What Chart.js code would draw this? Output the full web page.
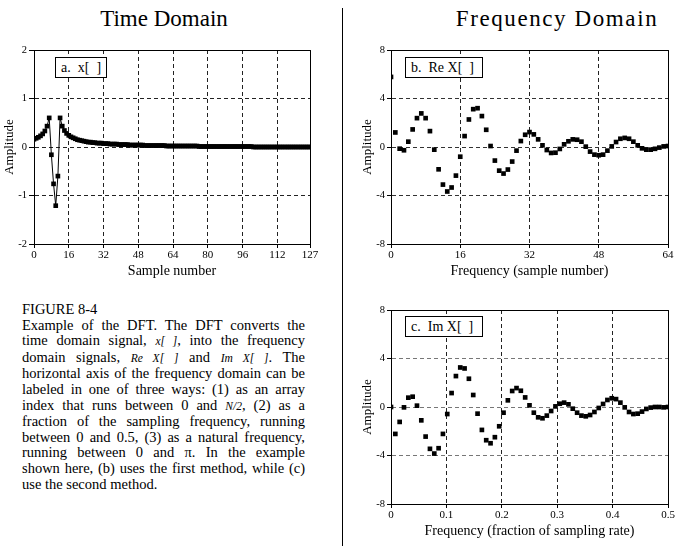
<!DOCTYPE html>
<html><head><meta charset="utf-8">
<script src="https://cdn.jsdelivr.net/npm/chart.js@4.4.1/dist/chart.umd.min.js"></script>
<style>
html,body{margin:0;padding:0;background:#fff;}
body{width:676px;height:555px;position:relative;overflow:hidden;font-family:"Liberation Serif","Times New Roman",serif;color:#000;}
canvas{position:absolute;}
.title{position:absolute;top:6px;font-size:23px;white-space:nowrap;transform:translateX(-50%);}
.lbl{position:absolute;border:1px solid #000;background:#fff;font-size:14px;line-height:19px;padding-left:5px;box-sizing:border-box;white-space:pre;}
#divider{position:absolute;left:342px;top:8px;width:1px;height:538px;background:#000;}
#caption{position:absolute;left:22px;top:302px;width:283px;font-size:14.5px;line-height:15.6px;}
#caption div{text-align:justify;text-align-last:justify;}
#caption div.l{text-align-last:left;}
#caption .s{font-style:italic;font-size:11.5px;}
</style>
</head><body>
<div class="title" style="left:164px">Time Domain</div>
<div class="title" style="left:557px;letter-spacing:1.6px">Frequency Domain</div>
<div id="divider"></div>
<canvas id="ca" width="330" height="250" style="left:0;top:40px"></canvas>
<canvas id="cb" width="336" height="250" style="left:340px;top:40px"></canvas>
<canvas id="cc" width="336" height="250" style="left:340px;top:300px"></canvas>
<div class="lbl" style="left:55px;top:57px;width:52px;height:21px">a.  x[  ]</div>
<div class="lbl" style="left:405px;top:57px;width:78px;height:21px">b.  Re X[  ]</div>
<div class="lbl" style="left:405px;top:316px;width:78px;height:21px">c.  Im X[  ]</div>
<div id="caption">
<div class="l">FIGURE 8-4</div>
<div>Example of the DFT. The DFT converts the</div>
<div>time domain signal, <span class="s">x[ ]</span>, into the frequency</div>
<div>domain signals, <span class="s">Re X[ ]</span> and <span class="s">Im X[ ]</span>. The</div>
<div>horizontal axis of the frequency domain can be</div>
<div>labeled in one of three ways: (1) as an array</div>
<div>index that runs between 0 and <span class="s">N/2</span>, (2) as a</div>
<div>fraction of the sampling frequency, running</div>
<div>between 0 and 0.5, (3) as a natural frequency,</div>
<div>running between 0 and π. In the example</div>
<div>shown here, (b) uses the first method, while (c)</div>
<div class="l">use the second method.</div>
</div>
<script>
// ---- data ----
const N = 128;
const timeTicks = [0, 16, 32, 48, 64, 80, 96, 112, 127];
const timeAmpTicks = [-2, -1, 0, 1, 2];
const freqIndexTicks = [0, 16, 32, 48, 64];
const freqFractionTicks = [0, 0.1, 0.2, 0.3, 0.4, 0.5];
const freqAmpTicks = [-8, -4, 0, 4, 8];

const xSignal = [
  0.16,0.18,0.20,0.23,0.27,0.33,0.43,0.60,-0.16,-0.76,-1.21,-0.60,0.60,0.43,0.34,0.28,
  0.24,0.21,0.19,0.17,0.15,0.14,0.13,0.12,0.11,0.10,0.10,0.09,0.09,0.08,0.08,0.08,
  0.07,0.07,0.07,0.06,0.06,0.06,0.06,0.05,0.05,0.05,0.05,0.05,0.04,0.04,0.04,0.04,
  0.04,0.04,0.04,0.03,0.03,0.03,0.03,0.03,0.03,0.03,0.03,0.03,0.03,0.02,0.02,0.02,
  0.02,0.02,0.02,0.02,0.02,0.02,0.02,0.02,0.02,0.02,0.02,0.02,0.01,0.01,0.01,0.01,
  0.01,0.01,0.01,0.01,0.01,0.01,0.01,0.01,0.01,0.01,0.01,0.01,0.01,0.01,0.01,0.01,
  0.01,0.01,0.01,0.01,0.01,0.00,0.00,0.00,0.00,0.00,0.00,0.00,0.00,0.00,0.00,0.00,
  0.00,0.00,0.00,0.00,0.00,0.00,0.00,0.00,0.00,0.00,0.00,0.00,0.00,0.00,0.00,0.00
];

const reX = [
  5.78,1.20,-0.14,-0.27,0.44,1.45,2.38,2.77,2.38,1.31,
  -0.22,-1.84,-3.10,-3.67,-3.34,-2.36,-0.80,0.90,2.27,3.12,
  3.20,2.55,1.42,0.08,-1.12,-1.95,-2.19,-1.86,-1.20,-0.30,
  0.49,1.01,1.23,1.04,0.63,0.14,-0.25,-0.49,-0.47,-0.16,
  0.22,0.47,0.63,0.60,0.44,0.03,-0.38,-0.63,-0.68,-0.63,
  -0.30,0.05,0.41,0.68,0.75,0.68,0.44,0.14,-0.11,-0.22,
  -0.22,-0.15,-0.05,0.05,0.08
];

const imX = [
  0.00,-2.22,-1.23,-0.03,0.77,0.85,0.11,-1.10,-2.44,-3.45,
  -3.84,-3.40,-2.22,-0.58,1.15,2.55,3.26,3.18,2.33,0.99,
  -0.55,-1.89,-2.74,-2.99,-2.49,-1.59,-0.47,0.55,1.32,1.56,
  1.34,0.79,0.14,-0.47,-0.85,-0.93,-0.71,-0.33,0.05,0.27,
  0.36,0.22,-0.14,-0.47,-0.71,-0.77,-0.66,-0.41,-0.08,0.25,
  0.58,0.72,0.65,0.36,-0.03,-0.41,-0.58,-0.55,-0.38,-0.16,
  -0.05,0.00,0.00,-0.03,0.00
];

// ---- helpers ----
const FONT = '"Liberation Serif","Times New Roman",serif';
Chart.defaults.font.family = FONT;
Chart.defaults.color = '#000';

function align(px){ return Math.round(px - 0.5) + 0.5; }
const framePlugin = {
  id: 'frame',
  afterDatasetsDraw(chart){
    const {ctx, chartArea: a} = chart;
    ctx.save();
    ctx.setLineDash([]);
    ctx.strokeStyle = '#000';
    ctx.lineWidth = 1;
    const l = align(a.left), r = align(a.right), t = align(a.top), b = align(a.bottom);
    ctx.beginPath();
    ctx.moveTo(l, t); ctx.lineTo(r, t); ctx.lineTo(r, b); ctx.lineTo(l, b); ctx.closePath();
    ctx.stroke();
    ctx.restore();
  }
};

function makeScales(o){
  return {
    x: {
      type: 'linear', min: o.xMin, max: o.xMax,
      afterBuildTicks: s => { s.ticks = o.xTicks.map(v => ({value: v})); },
      afterFit: s => { s.height = o.xH; },
      ticks: { autoSkip: false, maxRotation: 0, padding: 1, font: {size: 11, family: FONT}, color: '#000' },
      grid: { color: o.vGrid, lineWidth: 1, drawTicks: true, tickLength: 4, tickColor: '#000', tickWidth: 1 },
      border: { display: true, color: '#000', width: 1, dash: [4, 3] },
      title: { display: true, text: o.xTitle, font: {size: 14, family: FONT}, color: '#000', padding: {top: 0, bottom: o.xTitlePad} }
    },
    y: {
      type: 'linear', min: o.yMin, max: o.yMax,
      afterBuildTicks: s => { s.ticks = o.yTicks.map(v => ({value: v})); },
      afterFit: s => { s.width = o.yW; },
      ticks: { autoSkip: false, padding: o.yTickPad, font: {size: 10.5, family: FONT}, color: '#000' },
      grid: { color: o.hGrid, lineWidth: 1, drawTicks: true, tickLength: o.yTickLen, tickColor: '#000', tickWidth: 1 },
      border: { display: true, color: '#000', width: 1, dash: [4, 3] },
      title: { display: true, text: 'Amplitude', font: {size: 13, family: FONT}, color: '#000', padding: {top: o.yTitlePad, bottom: 0} }
    }
  };
}

function baseOptions(o){
  return {
    responsive: false, animation: false, devicePixelRatio: 1,
    layout: { padding: o.pad, autoPadding: false },
    plugins: { legend: {display: false}, tooltip: {enabled: false}, title: {display: false} },
    scales: makeScales(o)
  };
}

// ---- chart a: time domain ----
new Chart(document.getElementById('ca'), {
  type: 'line',
  data: { datasets: [{
    data: xSignal.map((v, i) => ({x: i, y: v})),
    borderColor: '#000', borderWidth: 1, backgroundColor: '#000',
    pointStyle: 'rect', pointRadius: 3.3, pointBorderWidth: 0, pointBackgroundColor: '#000',
    tension: 0, fill: false
  }]},
  options: baseOptions({
    pad: {top: 10, right: 20, left: 0, bottom: 0},
    xMin: 0, xMax: 127, xTicks: timeTicks, xTitle: 'Sample number', xH: 46, xTitlePad: 10.5,
    yMin: -2, yMax: 2, yTicks: timeAmpTicks, yW: 34, yTitlePad: 2, yTickPad: 2, yTickLen: 5,
    vGrid: '#222', hGrid: '#222'
  }),
  plugins: [framePlugin]
});

// ---- chart b: Re X ----
new Chart(document.getElementById('cb'), {
  type: 'scatter',
  data: { datasets: [{
    data: reX.map((v, k) => ({x: k, y: v})),
    showLine: false,
    pointStyle: 'rect', pointRadius: 3.3, pointBorderWidth: 0, pointBackgroundColor: '#000'
  }]},
  options: baseOptions({
    pad: {top: 10, right: 8, left: 0, bottom: 0},
    xMin: 0, xMax: 64, xTicks: freqIndexTicks, xTitle: 'Frequency (sample number)', xH: 46, xTitlePad: 10,
    yMin: -8, yMax: 8, yTicks: freqAmpTicks, yW: 51, yTitlePad: 20, yTickPad: 2, yTickLen: 4,
    vGrid: '#222', hGrid: '#333'
  }),
  plugins: [framePlugin]
});

// ---- chart c: Im X ----
new Chart(document.getElementById('cc'), {
  type: 'scatter',
  data: { datasets: [{
    data: imX.map((v, k) => ({x: k / N, y: v})),
    showLine: false,
    pointStyle: 'rect', pointRadius: 3.3, pointBorderWidth: 0, pointBackgroundColor: '#000'
  }]},
  options: baseOptions({
    pad: {top: 10, right: 8, left: 0, bottom: 0},
    xMin: 0, xMax: 0.5, xTicks: freqFractionTicks, xTitle: 'Frequency (fraction of sampling rate)', xH: 46, xTitlePad: 10.5,
    yMin: -8, yMax: 8, yTicks: freqAmpTicks, yW: 51, yTitlePad: 20, yTickPad: 2, yTickLen: 4,
    vGrid: '#222', hGrid: '#777'
  }),
  plugins: [framePlugin]
});
</script>
</body></html>
